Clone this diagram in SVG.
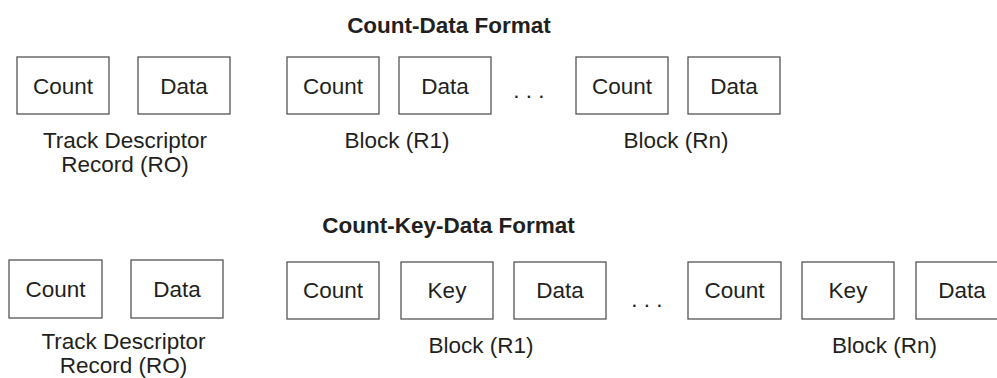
<svg xmlns="http://www.w3.org/2000/svg" width="997" height="378" viewBox="0 0 997 378">
<style>
.b{fill:#fff;stroke:#555;stroke-width:1.3}
.t{font-family:"Liberation Sans",Arial,sans-serif;font-size:22.5px;fill:#231f20;text-anchor:middle}
.h{font-family:"Liberation Sans",Arial,sans-serif;font-size:22.5px;font-weight:bold;fill:#231f20;text-anchor:middle}
</style>
<rect width="997" height="378" fill="#fff"/>
<text class="h" x="449" y="33">Count-Data Format</text>
<g id="cd-r0-count"><rect class="b" x="17" y="57" width="92" height="57"/><text class="t" x="63" y="94">Count</text></g>
<g id="cd-r0-data"><rect class="b" x="138" y="57" width="92" height="57"/><text class="t" x="184" y="94">Data</text></g>
<g id="cd-r1-count"><rect class="b" x="287" y="57" width="92" height="57"/><text class="t" x="333" y="94">Count</text></g>
<g id="cd-r1-data"><rect class="b" x="399" y="57" width="92" height="57"/><text class="t" x="445" y="94">Data</text></g>
<text class="t" x="529" y="98">. . .</text>
<g id="cd-rn-count"><rect class="b" x="576" y="57" width="92" height="57"/><text class="t" x="622" y="94">Count</text></g>
<g id="cd-rn-data"><rect class="b" x="688" y="57" width="92" height="57"/><text class="t" x="734" y="94">Data</text></g>
<text class="t" x="125" y="148">Track Descriptor</text>
<text class="t" x="125" y="172">Record (RO)</text>
<text class="t" x="397" y="148">Block (R1)</text>
<text class="t" x="676" y="148">Block (Rn)</text>

<text class="h" x="448.5" y="233">Count-Key-Data Format</text>
<g id="ckd-r0-count"><rect class="b" x="9" y="260" width="93" height="58"/><text class="t" x="55.5" y="297">Count</text></g>
<g id="ckd-r0-data"><rect class="b" x="131" y="260" width="92" height="58"/><text class="t" x="177" y="297">Data</text></g>
<g id="ckd-r1-count"><rect class="b" x="287" y="262" width="92" height="57"/><text class="t" x="333" y="298">Count</text></g>
<g id="ckd-r1-key"><rect class="b" x="401" y="262" width="92" height="57"/><text class="t" x="447" y="298">Key</text></g>
<g id="ckd-r1-data"><rect class="b" x="514" y="262" width="92" height="57"/><text class="t" x="560" y="298">Data</text></g>
<text class="t" x="647" y="307">. . .</text>
<g id="ckd-rn-count"><rect class="b" x="688" y="262" width="93" height="57"/><text class="t" x="734.5" y="298">Count</text></g>
<g id="ckd-rn-key"><rect class="b" x="802" y="262" width="92" height="57"/><text class="t" x="848" y="298">Key</text></g>
<g id="ckd-rn-data"><rect class="b" x="916" y="262" width="92" height="57"/><text class="t" x="962" y="298">Data</text></g>
<text class="t" x="123.5" y="349">Track Descriptor</text>
<text class="t" x="123.5" y="373">Record (RO)</text>
<text class="t" x="481" y="353">Block (R1)</text>
<text class="t" x="884.5" y="353">Block (Rn)</text>
<g id="connectors"/>
</svg>
